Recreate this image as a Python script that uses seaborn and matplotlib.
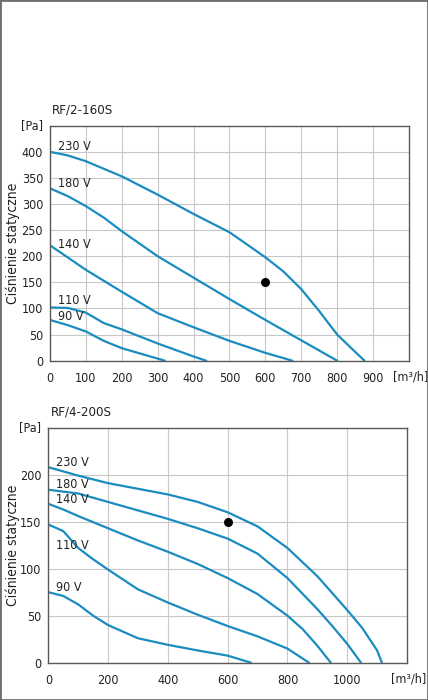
import numpy as np
import pandas as pd
import matplotlib
matplotlib.use("Agg")
import matplotlib.pyplot as plt
import seaborn as sns
from matplotlib.patches import Rectangle

sns.set_style("white")
plt.rcParams['font.family'] = ['Liberation Sans Narrow', 'DejaVu Sans']
plt.rcParams['font.stretch'] = 'condensed'

# RF/2-160S curves (airflow m3/h, static pressure Pa)
a_230_x = [0, 50, 100, 200, 300, 400, 500, 600, 650, 700, 750, 800, 850, 876]
a_230_y = [400, 393, 382, 353, 318, 281, 246, 198, 171, 137, 95, 50, 17, 0]
a_180_x = [0, 50, 100, 150, 200, 300, 400, 500, 600, 700, 800]
a_180_y = [330, 315, 296, 274, 248, 200, 159, 118, 78, 39, 0]
a_140_x = [0, 100, 200, 300, 400, 500, 600, 675]
a_140_y = [221, 174, 132, 91, 64, 38, 15, 0]
a_110_x = [0, 50, 100, 150, 200, 300, 400, 435]
a_110_y = [102, 101, 92, 72, 60, 33, 8, 0]
a_90_x = [0, 50, 100, 150, 200, 300, 320]
a_90_y = [78, 68, 56, 38, 24, 4, 0]

# RF/4-200S curves
b_230_x = [0, 100, 200, 300, 400, 500, 600, 700, 800, 900, 1000, 1050, 1100, 1116]
b_230_y = [208, 199, 191, 185, 179, 171, 160, 145, 122, 92, 56, 37, 13, 0]
b_180_x = [0, 100, 200, 300, 400, 500, 600, 700, 800, 900, 950, 1000, 1046]
b_180_y = [184, 180, 171, 162, 153, 143, 132, 116, 90, 57, 39, 20, 0]
b_140_x = [0, 50, 100, 200, 300, 400, 500, 600, 700, 800, 850, 900, 945]
b_140_y = [169, 163, 156, 143, 130, 118, 105, 90, 73, 50, 36, 18, 0]
b_110_x = [0, 50, 100, 150, 200, 300, 400, 500, 600, 700, 800, 872]
b_110_y = [147, 140, 122, 110, 99, 78, 64, 51, 39, 28, 15, 0]
b_90_x = [0, 50, 100, 150, 200, 300, 400, 500, 600, 678]
b_90_y = [75, 71, 62, 50, 40, 26, 19, 13, 7.5, 0]

voltages = ["230 V", "180 V", "140 V", "110 V", "90 V"]
top_curves = [(a_230_x, a_230_y), (a_180_x, a_180_y), (a_140_x, a_140_y),
              (a_110_x, a_110_y), (a_90_x, a_90_y)]
bot_curves = [(b_230_x, b_230_y), (b_180_x, b_180_y), (b_140_x, b_140_y),
              (b_110_x, b_110_y), (b_90_x, b_90_y)]
top_label_y = [411, 339, 222, 116, 84]
bot_label_y = [213, 190, 174, 125, 80]
top_point = (600, 150)
bot_point = (600, 150)

line_col = "#1a8cbf"
txt_col = "#222222"
fig = plt.figure(figsize=(4.28, 7.00), dpi=100)
fig.add_artist(Rectangle((0, 0), 1, 1, transform=fig.transFigure, fill=False,
                         edgecolor="#6e6e6e", linewidth=2.0))

ax1 = fig.add_axes([0.1168, 0.4847, 0.8388, 0.3357])
ax2 = fig.add_axes([0.1129, 0.0533, 0.8381, 0.3357])


def draw(ax, curves, label_y, label_x, pt, xlim, ylim, xticks, yticks, title, ylab_x):
    for (xs, ys), v, ly in zip(curves, voltages, label_y):
        sns.lineplot(x=xs, y=ys, ax=ax, color=line_col, linewidth=1.6,
                     estimator=None, sort=False)
        ax.text(label_x, ly, v, fontsize=9, va="center", ha="left", color=txt_col)
    ax.scatter([pt[0]], [pt[1]], s=30, color="black", zorder=5)
    ax.set_xlim(*xlim)
    ax.set_ylim(*ylim)
    ax.set_xticks(xticks)
    ax.set_yticks(yticks)
    ax.grid(True, color="#c8c8c8", linewidth=0.8)
    ax.set_axisbelow(True)
    for s in ax.spines.values():
        s.set_color("#5a5a5a")
        s.set_linewidth(1.0)
        s.set_visible(True)
    ax.tick_params(axis="x", length=0, pad=8, labelsize=9, colors=txt_col)
    ax.tick_params(axis="y", length=0, pad=5, labelsize=9, colors=txt_col)
    ax.set_ylabel("Ciśnienie statyczne", fontsize=10, color=txt_col, va="center")
    ax.yaxis.set_label_coords(ylab_x, 0.5)
    ax.set_xlabel("")
    ax.annotate("[m³/h]", xy=(1, 0), xycoords="axes fraction", xytext=(-11.5, -12),
                textcoords="offset points", ha="left", va="center", fontsize=9,
                color=txt_col)
    ax.annotate("[Pa]", xy=(0, 1), xycoords="axes fraction", xytext=(-5, 0),
                textcoords="offset points", ha="right", va="center", fontsize=9,
                color=txt_col)
    ax.annotate(title, xy=(0, 1), xycoords="axes fraction", xytext=(1.5, 11.5),
                textcoords="offset points", ha="left", va="center", fontsize=9.5,
                color=txt_col)


draw(ax1, top_curves, top_label_y, 22, top_point, (0, 1000), (0, 450),
     np.arange(0, 1000, 100), np.arange(0, 450, 50), "RF/2-160S", -0.103)
draw(ax2, bot_curves, bot_label_y, 25, bot_point, (0, 1200), (0, 250),
     np.arange(0, 1200, 200), np.arange(0, 250, 50), "RF/4-200S", -0.098)

fig.savefig("out.png", dpi=100)
